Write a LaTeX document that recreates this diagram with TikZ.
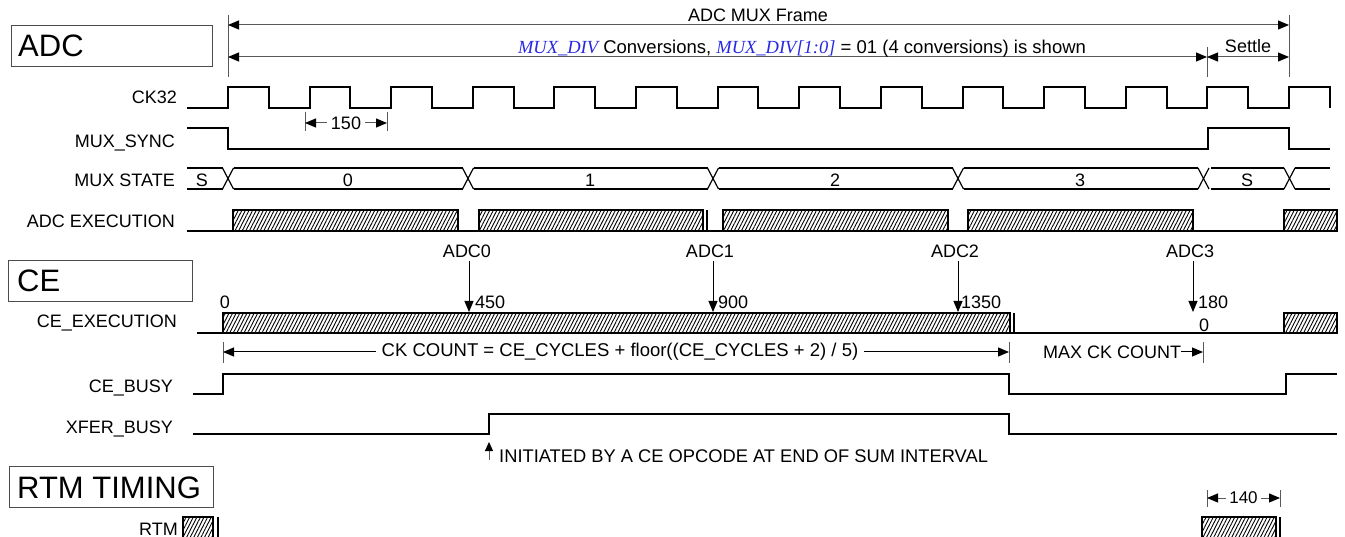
\documentclass[tikz,border=0pt]{standalone}
\usepackage{fontspec}
\setmainfont{Liberation Sans}
\newfontfamily\tnr{Liberation Serif}
\usetikzlibrary{arrows.meta,patterns.meta}
\definecolor{divblue}{RGB}{40,40,225}
\begin{document}
\begin{tikzpicture}[x=1pt,y=-1pt,
  Tri/.tip={Triangle[length=11pt,width=9pt,color=black]},
  TriS/.tip={Triangle[length=9pt,width=8pt,color=black]},
  sigline/.style={line width=2pt},
  thinsig/.style={line width=1.2pt},
  dimline/.style={line width=1pt, draw=black!65},
  ptr/.style={line width=1pt, draw=black},
  hatchbox/.style={draw, line width=1.8pt, pattern={Lines[angle=63,distance=3.2pt,line width=0.9pt]}},
  lbl/.style={font=\fontsize{18}{21}\selectfont, inner sep=0pt, anchor=base east},
  txt/.style={font=\fontsize{18}{21}\selectfont, inner sep=0pt},
  title/.style={font=\fontsize{31}{36}\selectfont, inner sep=0pt, anchor=base west},
  boxl/.style={line width=1pt, draw=black!70}
]
\useasboundingbox (0,0) rectangle (1345,537);

% ---------- section boxes ----------
\draw[boxl] (11,26) rectangle (212,67);
\node[title] (adcT) at (18,57) {ADC};
\draw[boxl] (8,261) rectangle (192,302);
\node[title] (ceT) at (17,292) {CE};
\draw[boxl] (9,466) rectangle (213,507);
\node[title] (rtmT) at (17,498) {RTM TIMING};

% ---------- frame dimensions ----------
\coordinate (fL) at (228,25);  \coordinate (fR) at (1289,25);
\coordinate (cL) at (228,57);  \coordinate (cM) at (1207,57); \coordinate (cR) at (1289,57);
\draw[dimline] (228,15) -- (228,77);
\draw[dimline] (1289,15) -- (1289,77);
\draw[dimline] (1207,47) -- (1207,77);
\draw[dimline, Tri-Tri] (fL) -- (fR);
\draw[dimline, Tri-Tri] (cL) -- (cM);
\draw[dimline, Tri-Tri] (cM) -- (cR);
\node[txt, anchor=base] (frame) at (758,22) {ADC MUX Frame};
\node[txt, anchor=base, font=\fontsize{18.5}{21}\selectfont] (conv) at (802,54) {{\tnr\itshape\color{divblue}MUX\_DIV} Conversions, {\tnr\itshape\color{divblue}MUX\_DIV[1:0]} = 01 (4 conversions) is shown};
\node[txt, anchor=base] (settle) at (1248,53) {Settle};

% ---------- CK32 ----------
\node[lbl] (ck32) at (177,104) {CK32};
\draw[sigline] (187,108) foreach \k in {0,...,13} {
  -- ({228+\k*81.615},108) -- ({228+\k*81.615},87) -- ({268.8+\k*81.615},87) -- ({268.8+\k*81.615},108) };
\draw[dimline] (305,112) -- (305,131);
\draw[dimline] (387,112) -- (387,131);
\node[txt, inner xsep=4pt] (t150) at (346,123) {150};
\draw[dimline, -Tri] (t150.west) -- (305,123);
\draw[dimline, -Tri] (t150.east) -- (387,123);

% ---------- MUX_SYNC ----------
\node[lbl] (msync) at (175,148) {MUX\_SYNC};
\draw[sigline] (187,128) -- (228,128) -- (228,149) -- (1208,149) -- (1208,128) -- (1289,128) -- (1289,149) -- (1330,149);

% ---------- MUX STATE ----------
\node[lbl] (mstate) at (175,187) {MUX STATE};
\foreach \a/\b in {187/222.5, 233.5/462.5, 473.5/707.5, 718.5/952.5, 963.5/1198, 1211/1284, 1295/1330} {
  \draw[sigline] (\a,168) -- (\b,168);
  \draw[sigline] (\a,189) -- (\b,189);
}
\foreach \c in {228, 468, 713, 958, 1203.5, 1289.5} {
  \draw[thinsig] ({\c-5.5},168) -- ({\c+5.5},189);
  \draw[thinsig] ({\c-5.5},189) -- ({\c+5.5},168);
}
\node[txt, anchor=base] (sA) at (202,187) {S};
\node[txt, anchor=base] (s0) at (348,187) {0};
\node[txt, anchor=base] (s1) at (590,187) {1};
\node[txt, anchor=base] (s2) at (835,187) {2};
\node[txt, anchor=base] (s3) at (1080,187) {3};
\node[txt, anchor=base] (sB) at (1247,187) {S};

% ---------- ADC EXECUTION ----------
\node[lbl] (adcx) at (175,228) {ADC EXECUTION};
\draw[hatchbox] (233,210) rectangle (458,231);
\draw[hatchbox] (479,210) rectangle (703,231);
\draw[sigline] (707,210) -- (707,231);
\draw[hatchbox] (723,210) rectangle (948,231);
\draw[hatchbox] (968,210) rectangle (1193,231);
\draw[hatchbox] (1284,210) rectangle (1337,231);
\draw[sigline] (187,231) -- (1337,231);

% ---------- ADC conversion pointers ----------
\node[txt, anchor=base] (adc0) at (467,258) {ADC0};
\node[txt, anchor=base] (adc1) at (710,258) {ADC1};
\node[txt, anchor=base] (adc2) at (955,258) {ADC2};
\node[txt, anchor=base] (adc3) at (1190,258) {ADC3};
\coordinate (p0t) at (469,261); \coordinate (p0b) at (469,312);
\coordinate (p1t) at (713,261); \coordinate (p1b) at (713,312);
\coordinate (p2t) at (958,261); \coordinate (p2b) at (958,312);
\coordinate (p3t) at (1193,261); \coordinate (p3b) at (1193,312);
\draw[ptr, -Tri] (p0t) -- (p0b);
\draw[ptr, -Tri] (p1t) -- (p1b);
\draw[ptr, -Tri] (p2t) -- (p2b);
\draw[ptr, -Tri] (p3t) -- (p3b);

% ---------- CE_EXECUTION ----------
\node[lbl] (cex) at (177,328) {CE\_EXECUTION};
\draw[hatchbox] (223,313) rectangle (1010,333);
\draw[sigline] (1014,313) -- (1014,333);
\draw[hatchbox] (1284,313) rectangle (1337,333);
\draw[sigline] (197,333) -- (1337,333);
\node[txt, anchor=base] (n0) at (225,309) {0};
\node[txt, anchor=base west] (n450) at (475,309) {450};
\node[txt, anchor=base west] (n900) at (718,309) {900};
\node[txt, anchor=base west] (n1350) at (961,309) {1350};
\node[txt, anchor=base west] (n180) at (1198,309) {180};
\node[txt, anchor=base west] (n180b) at (1199,332) {0};

% ---------- CK COUNT ----------
\draw[dimline] (223,342) -- (223,363);
\draw[dimline] (1009,342) -- (1009,363);
\draw[dimline] (1203,342) -- (1203,363);
\coordinate (kL) at (223,352); \coordinate (kM) at (1009,352); \coordinate (kR) at (1203,352);
\node[txt, inner xsep=6pt, font=\fontsize{18.5}{21}\selectfont] (ckc) at (620,352) {CK COUNT = CE\_CYCLES + floor((CE\_CYCLES + 2) / 5)};
\draw[ptr, -Tri] (ckc.west) -- (kL);
\draw[ptr, -Tri] (ckc.east) -- (kM);
\node[txt, anchor=west] (mck) at (1043,352) {MAX CK COUNT};
\draw[ptr, -Tri] (mck.east) -- (kR);

% ---------- CE_BUSY ----------
\node[lbl] (cebusy) at (173,393) {CE\_BUSY};
\draw[sigline] (193,394) -- (223,394) -- (223,374) -- (1009,374) -- (1009,394) -- (1286,394) -- (1286,374) -- (1337,374);

% ---------- XFER_BUSY ----------
\node[lbl] (xfer) at (173,433) {XFER\_BUSY};
\draw[sigline] (193,434) -- (489,434) -- (489,414) -- (1009,414) -- (1009,434) -- (1337,434);
\coordinate (iB) at (489,460); \coordinate (iT) at (489,442);
\draw[dimline, -TriS] (iB) -- (iT);
\node[txt, anchor=base west, font=\fontsize{18.3}{21}\selectfont] (init) at (499,462) {INITIATED BY A CE OPCODE AT END OF SUM INTERVAL};

% ---------- RTM ----------
\node[lbl] (rtm) at (178,535) {RTM};
\draw[hatchbox] (183,517) rectangle (213,545);
\draw[sigline] (218,517) -- (218,545);
\draw[hatchbox] (1202,517) rectangle (1276,545);
\draw[sigline] (1280,517) -- (1280,545);
\draw[dimline] (1207,490) -- (1207,507);
\draw[dimline] (1280,490) -- (1280,507);
\node[txt, font=\fontsize{17}{20}\selectfont, inner xsep=3pt] (t140) at (1243.5,498) {140};
\draw[dimline, -Tri] (t140.west) -- (1207,498);
\draw[dimline, -Tri] (t140.east) -- (1280,498);
\end{tikzpicture}
\end{document}
